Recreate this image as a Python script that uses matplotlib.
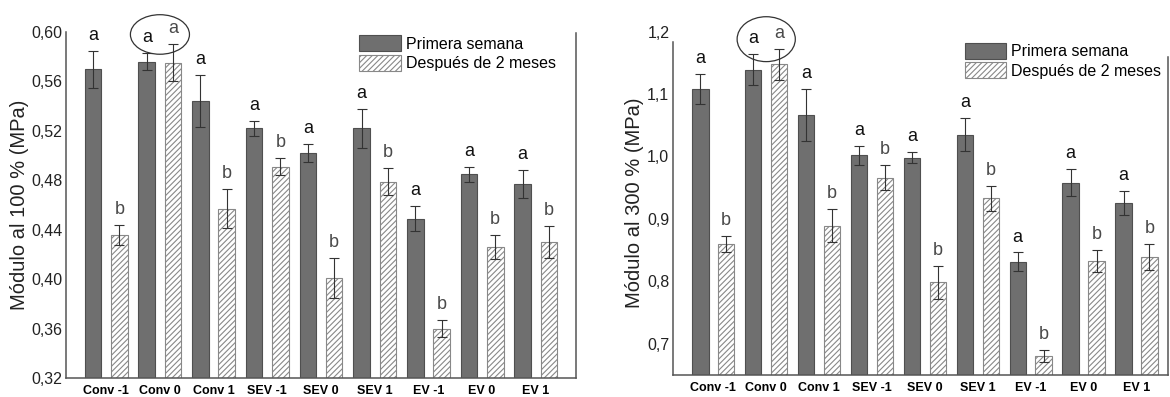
import matplotlib
matplotlib.use("Agg")
import matplotlib.pyplot as plt
import numpy as np
from matplotlib.patches import Ellipse

plt.rcParams["font.family"] = ["Liberation Sans", "DejaVu Sans"]
plt.rcParams["hatch.linewidth"] = 0.8

groups = ["Conv -1", "Conv 0", "Conv 1", "SEV -1", "SEV 0", "SEV 1", "EV -1", "EV 0", "EV 1"]
series = ["Primera semana", "Después de 2 meses"]

# Módulo al 100 %
m100_week = [0.570, 0.576, 0.544, 0.522, 0.502, 0.522, 0.449, 0.485, 0.477]
m100_week_err = [0.015, 0.007, 0.021, 0.006, 0.007, 0.016, 0.010, 0.006, 0.011]
m100_2m = [0.436, 0.575, 0.457, 0.491, 0.401, 0.479, 0.360, 0.426, 0.430]
m100_2m_err = [0.008, 0.015, 0.016, 0.007, 0.016, 0.011, 0.007, 0.010, 0.013]
m100_ticks = [0.32, 0.36, 0.40, 0.44, 0.48, 0.52, 0.56, 0.60]
m100_ticklabels = ["0,32", "0,36", "0,40", "0,44", "0,48", "0,52", "0,56", "0,60"]

# Módulo al 300 %
m300_week = [1.108, 1.139, 1.066, 1.002, 0.998, 1.035, 0.831, 0.958, 0.925]
m300_week_err = [0.024, 0.025, 0.042, 0.015, 0.009, 0.027, 0.015, 0.022, 0.019]
m300_2m = [0.859, 1.148, 0.889, 0.966, 0.798, 0.933, 0.680, 0.832, 0.839]
m300_2m_err = [0.013, 0.025, 0.027, 0.020, 0.026, 0.020, 0.009, 0.018, 0.021]
m300_ticks = [0.7, 0.8, 0.9, 1.0, 1.1, 1.2]
m300_ticklabels = ["0,7", "0,8", "0,9", "1,0", "1,1", "1,2"]

letters_week = ["a", "a", "a", "a", "a", "a", "a", "a", "a"]
letters_2m = ["b", "a", "b", "b", "b", "b", "b", "b", "b"]

DARK = "#6f6f6f"
DARK_EDGE = "#4f4f4f"
HATCH = "#888888"
SPINE = "#555555"


def draw_panel(ax, week, week_err, two, two_err, ylabel, ticks, ticklabels,
               ylim, xlim, leg_anchor, ellipse_h, left_top, right_top, ylab_x):
    x = np.arange(len(groups))
    w, off = 0.31, 0.245
    b1 = ax.bar(x - off, week, w, color=DARK, edgecolor=DARK_EDGE, linewidth=0.8)
    b2 = ax.bar(x + off, two, w, color="white", edgecolor=HATCH, hatch="//////", linewidth=0.8)
    ax.errorbar(x - off, week, yerr=week_err, fmt="none", ecolor="#333333",
                elinewidth=0.8, capsize=3.5, capthick=0.8)
    ax.errorbar(x + off, two, yerr=two_err, fmt="none", ecolor="#333333",
                elinewidth=0.8, capsize=3.5, capthick=0.8)

    for i in range(len(groups)):
        ax.annotate(letters_week[i], xy=(x[i] - off, week[i] + week_err[i]), xytext=(0, 5),
                    textcoords="offset points", ha="center", va="bottom",
                    fontsize=13, color="#111111")
        ax.annotate(letters_2m[i], xy=(x[i] + off, two[i] + two_err[i]), xytext=(0, 5),
                    textcoords="offset points", ha="center", va="bottom",
                    fontsize=13, color="#4a4a4a")

    ax.set_xlim(*xlim)
    ax.set_ylim(*ylim)
    ax.set_xticks(x)
    ax.set_xticklabels(groups, fontsize=9, fontweight="bold")
    ax.set_yticks(ticks)
    ax.set_yticklabels(ticklabels, fontsize=11.5, color="#222222")
    ax.tick_params(length=0, pad=2.5)
    ax.tick_params(axis="x", pad=5)
    ax.set_ylabel(ylabel, fontsize=14.5, color="#222222")
    ax.yaxis.set_label_coords(ylab_x, 0.5)

    ax.spines["top"].set_visible(False)
    for s in ["left", "right", "bottom"]:
        ax.spines[s].set_color(SPINE)
        ax.spines[s].set_linewidth(1.1)
    ax.spines["left"].set_bounds(ylim[0], left_top)
    ax.spines["right"].set_bounds(ylim[0], right_top)

    ell = Ellipse((1, ellipse_h[0]), 1.1, ellipse_h[1], fill=False,
                  edgecolor="#333333", linewidth=0.9, clip_on=False)
    ax.add_patch(ell)

    ax.legend([b1, b2], series, loc="upper left", bbox_to_anchor=leg_anchor,
              frameon=False, fontsize=11.5, borderpad=0, handlelength=2.6,
              handleheight=1.17, labelspacing=0.2, handletextpad=0.3,
              borderaxespad=0)


fig = plt.figure(figsize=(11.7, 3.97), dpi=100)
ax1 = fig.add_axes([0.0564, 0.0479, 0.4359, 0.8715])
ax2 = fig.add_axes([0.5750, 0.0562, 0.4233, 0.8640])

draw_panel(ax1, m100_week, m100_week_err, m100_2m, m100_2m_err,
           "Módulo al 100 % (MPa)", m100_ticks, m100_ticklabels,
           (0.32, 0.60), (-0.75, 8.75), (0.575, 0.991), (0.598, 0.032),
           0.60, 0.599, -0.072)
draw_panel(ax2, m300_week, m300_week_err, m300_2m, m300_2m_err,
           "Módulo al 300 % (MPa)", m300_ticks, m300_ticklabels,
           (0.65, 1.2), (-0.767, 8.596), (0.59, 0.968), (1.188, 0.072),
           1.184, 1.16, -0.058)

plt.savefig("out.png", dpi=100)
